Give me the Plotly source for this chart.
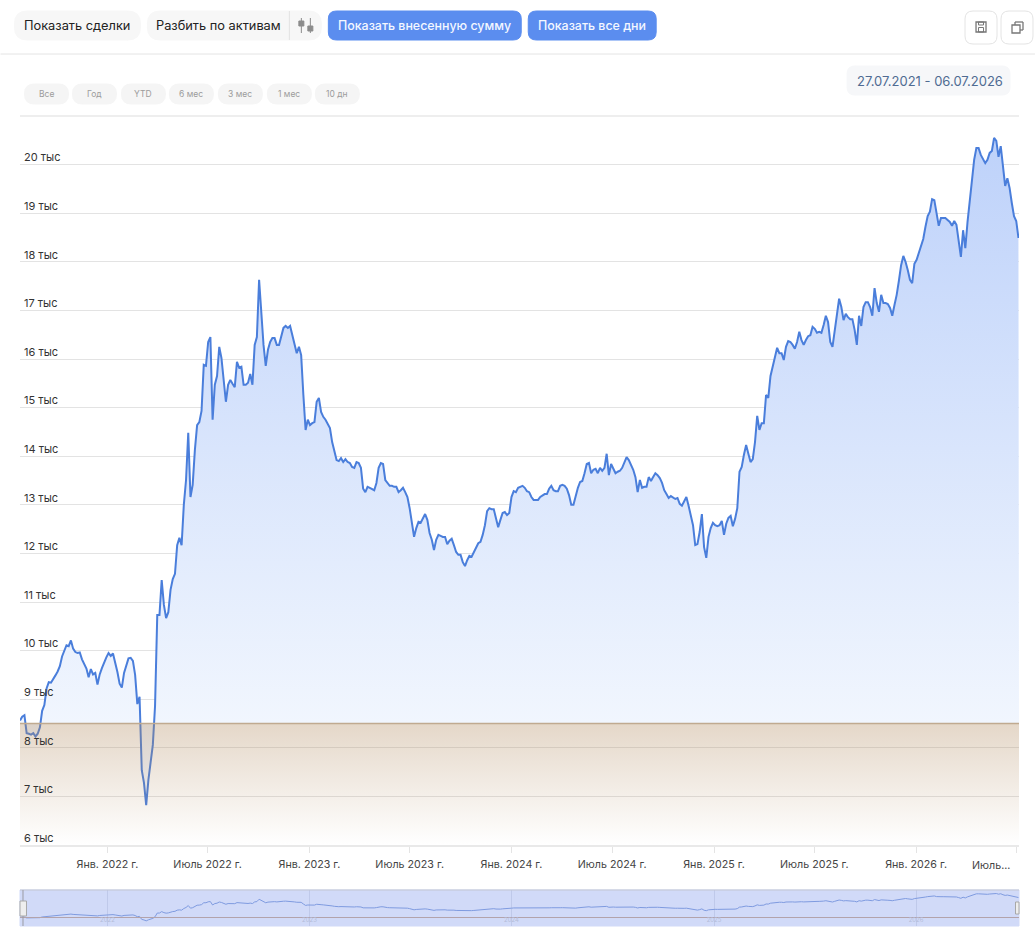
import pandas as pd
import plotly.graph_objects as go

start_date = "2021-07-27"
end_date = "2026-07-06"
invested_value = 8500

# portfolio value, one reading every 4 days
values_part1 = [
    8560, 8640, 8670, 8300, 8290, 8270, 8300, 8230, 8290, 8420,
    8760, 8880, 9220, 9350, 9340, 9430, 9490, 9570, 9680, 9880,
    10010, 10110, 10090, 10210, 10040, 9970, 9950, 9960, 9820, 9740,
    9630, 9450, 9620, 9510, 9540, 9300, 9510, 9640, 9760, 9860,
    9950, 9890, 9940, 9760, 9560, 9320, 9240, 9540, 9680, 9840,
]
values_part2 = [
    9850, 9790, 9500, 8900, 9050, 7540, 7280, 6820, 7340, 7730,
    8060, 8860, 10730, 10730, 11450, 10940, 10670, 10790, 11250, 11470,
    11580, 12170, 12320, 12170, 13000, 13510, 14480, 13160, 13410, 14130,
    14640, 14700, 14930, 15880, 15860, 16350, 16450, 14750, 15470, 15650,
    16250, 16020, 15530, 15120, 15470, 15570, 15490, 15420, 15940, 15820,
]
values_part3 = [
    15840, 15470, 15470, 15510, 15690, 15470, 16290, 16450, 17630, 16910,
    16290, 15860, 16190, 16350, 16430, 16430, 16290, 16290, 16490, 16640,
    16680, 16640, 16680, 16490, 16290, 16120, 16250, 16080, 15260, 14540,
    14750, 14640, 14680, 14700, 15120, 15200, 14910, 14810, 14750, 14660,
    14580, 14290, 14090, 13920, 13900, 13960, 13880, 13940, 13880, 13860,
]
values_part4 = [
    13780, 13760, 13880, 13860, 13760, 13330, 13260, 13370, 13350, 13330,
    13300, 13450, 13760, 13860, 13840, 13510, 13450, 13390, 13390, 13370,
    13370, 13260, 13300, 13350, 13260, 13160, 12930, 12650, 12340, 12520,
    12650, 12630, 12730, 12810, 12690, 12420, 12280, 12070, 12280, 12380,
    12360, 12340, 12340, 12190, 12260, 12300, 12170, 12030, 11970, 11970,
]
values_part5 = [
    11820, 11740, 11860, 11950, 11930, 12030, 12130, 12210, 12240, 12380,
    12580, 12870, 12930, 12910, 12910, 12730, 12540, 12690, 12830, 12850,
    12790, 12830, 13160, 13280, 13260, 13350, 13370, 13390, 13350, 13280,
    13260, 13160, 13100, 13100, 13100, 13160, 13200, 13220, 13220, 13330,
    13390, 13300, 13280, 13280, 13390, 13410, 13390, 13330, 13200, 13000,
]
values_part6 = [
    13000, 13180, 13350, 13470, 13490, 13650, 13840, 13860, 13650, 13720,
    13740, 13650, 13760, 13700, 13760, 14050, 13610, 13840, 13740, 13650,
    13680, 13700, 13760, 13860, 13980, 13920, 13820, 13720, 13570, 13260,
    13510, 13350, 13370, 13370, 13570, 13490, 13570, 13650, 13610, 13550,
    13450, 13300, 13220, 13140, 13180, 13140, 13120, 13140, 13020, 12980,
]
values_part7 = [
    13080, 13160, 12980, 12770, 12580, 12170, 12190, 12440, 12810, 12130,
    11910, 12340, 12520, 12630, 12580, 12560, 12580, 12670, 12380, 12610,
    12730, 12770, 12560, 12710, 12930, 13680, 13780, 14030, 14230, 14050,
    13880, 13940, 14290, 14830, 14540, 14680, 14680, 15260, 15200, 15650,
    15860, 16040, 16230, 16120, 16120, 15980, 16250, 16370, 16350, 16290,
]
values_part8 = [
    16210, 16350, 16560, 16390, 16290, 16390, 16470, 16490, 16660, 16620,
    16540, 16560, 16540, 16700, 16890, 16760, 16350, 16250, 16600, 16840,
    17240, 17070, 16800, 16930, 16860, 16820, 16820, 16600, 16290, 16890,
    16680, 17070, 17170, 17170, 17070, 16890, 17460, 17150, 16970, 17320,
    17150, 17150, 17130, 17050, 16890, 17110, 17320, 17610, 17930, 18120,
]
values_part9 = [
    18000, 17830, 17630, 17560, 17960, 18040, 18180, 18350, 18470, 18720,
    18940, 19030, 19290, 19270, 18960, 18740, 18900, 18900, 18900, 18860,
    18820, 18740, 18840, 18760, 18450, 18100, 18650, 18280, 18820, 19270,
    19620, 20100, 20340, 20340, 20200, 20100, 20030, 20100, 20240, 20280,
    20550, 20490, 20160, 20380, 19890, 19560, 19720, 19520, 19210, 18940,
    18840, 18490,
]

y_ticks = [6000, 7000, 8000, 9000, 10000, 11000, 12000, 13000, 14000, 15000, 16000, 17000, 18000, 19000, 20000, 21000]
y_labels = ["6 тыс", "7 тыс", "8 тыс", "9 тыс", "10 тыс", "11 тыс", "12 тыс", "13 тыс", "14 тыс", "15 тыс",
            "16 тыс", "17 тыс", "18 тыс", "19 тыс", "20 тыс", ""]
x_ticks = ["2022-01-01", "2022-07-01", "2023-01-01", "2023-07-01", "2024-01-01", "2024-07-01",
           "2025-01-01", "2025-07-01", "2026-01-01", "2026-07-01"]
x_labels = ["Янв. 2022 г.", "Июль 2022 г.", "Янв. 2023 г.", "Июль 2023 г.", "Янв. 2024 г.", "Июль 2024 г.",
            "Янв. 2025 г.", "Июль 2025 г.", "Янв. 2026 г.", ""]
year_ticks = ["2022-01-01", "2023-01-01", "2024-01-01", "2025-01-01", "2026-01-01"]
year_labels = ["2022", "2023", "2024", "2025", "2026"]
range_buttons = ["Все", "Год", "YTD", "6 мес", "3 мес", "1 мес", "10 дн"]

values = (values_part1 + values_part2 + values_part3 + values_part4 + values_part5
          + values_part6 + values_part7 + values_part8 + values_part9)
dates = pd.date_range(start_date, periods=len(values), freq="4D")

W, H = 1035, 937
LEFT, RIGHT = 19.5, 1019
FONT = "Inter"


def px_x(x):
    return (x - LEFT) / (RIGHT - LEFT)


def px_y(y):
    return (H - y) / H


def round_rect(x0, y0, x1, y1, r, fill, line=None):
    a, b, c, d = px_x(x0), px_x(x1), px_y(y0), px_y(y1)
    rx, ry = r / (RIGHT - LEFT), r / H
    path = (f"M{a + rx},{c} L{b - rx},{c} Q{b},{c} {b},{c - ry} L{b},{d + ry} Q{b},{d} {b - rx},{d} "
            f"L{a + rx},{d} Q{a},{d} {a},{d + ry} L{a},{c - ry} Q{a},{c} {a + rx},{c} Z")
    return dict(type="path", path=path, xref="paper", yref="paper", fillcolor=fill, layer="below",
                line=dict(color=line or fill, width=1))


def rect(x0, y0, x1, y1, fill="rgba(0,0,0,0)", line=None, width=1, layer="above"):
    return dict(type="rect", xref="paper", yref="paper", x0=px_x(x0), x1=px_x(x1), y0=px_y(y1), y1=px_y(y0),
                fillcolor=fill, layer=layer, line=dict(color=line or fill, width=width))


def seg(x0, y0, x1, y1, color, width=1, layer="above"):
    return dict(type="line", xref="paper", yref="paper", x0=px_x(x0), x1=px_x(x1), y0=px_y(y0), y1=px_y(y1),
                layer=layer, line=dict(color=color, width=width))


def label(text, x, y, size, color, anchor="left", weight=400):
    return dict(text=text, x=px_x(x), y=px_y(y), xref="paper", yref="paper", showarrow=False, xanchor=anchor,
                yanchor="middle", font=dict(family=FONT, size=size, color=color, weight=weight))


fig = go.Figure()

# main chart
fig.add_trace(go.Scatter(x=[dates[0], end_date], y=[invested_value, invested_value], mode="lines",
                         line=dict(width=0), hoverinfo="skip", showlegend=False))
fig.add_trace(go.Scatter(x=dates, y=values, mode="lines", fill="tonexty",
                         line=dict(color="#4a7edb", width=2), showlegend=False,
                         fillgradient=dict(type="vertical", start=invested_value, stop=20500,
                                           colorscale=[[0, "rgb(241,246,254)"], [1, "rgb(190,210,250)"]])))
fig.add_trace(go.Scatter(x=[dates[0], end_date], y=[6000, 6000], mode="lines",
                         line=dict(width=0), hoverinfo="skip", showlegend=False))
fig.add_trace(go.Scatter(x=[dates[0], end_date], y=[invested_value, invested_value], mode="lines", fill="tonexty",
                         line=dict(color="#c0aa90", width=1.5), hoverinfo="skip", showlegend=False,
                         fillgradient=dict(type="vertical", start=6000, stop=invested_value,
                                           colorscale=[[0, "rgba(175,135,90,0)"], [1, "rgba(175,135,90,0.33)"]])))

# overview strip
fig.add_trace(go.Scatter(x=dates, y=values, mode="lines", xaxis="x2", yaxis="y2",
                         line=dict(color="#7f9be0", width=1), showlegend=False, hoverinfo="skip"))
fig.add_trace(go.Scatter(x=[dates[0], end_date], y=[invested_value, invested_value], mode="lines", xaxis="x2",
                         yaxis="y2", line=dict(color="#b3a3ab", width=1), showlegend=False, hoverinfo="skip"))

shapes = [
    seg(0, 54, W, 54, "#e4e4e4"),
    seg(LEFT, 116, RIGHT, 116, "#e8e8e8", 1.5),
    rect(LEFT, 890, RIGHT, 926, "#d1daf8", layer="below"),
    seg(LEFT, 890, RIGHT, 890, "#c4c6d2"),
    round_rect(14, 11, 140, 40, 13, "#f7f7f7"),
    round_rect(147, 11, 321, 40, 13, "#f7f7f7"),
    seg(289, 11, 289, 40, "#e2e2e2"),
    round_rect(328, 11, 521, 40, 8, "#5b8def"),
    round_rect(528, 11, 656, 40, 8, "#5b8def"),
    round_rect(965, 11, 997, 44, 8, "#ffffff", "#e4e4e4"),
    round_rect(1001, 11, 1033, 44, 8, "#ffffff", "#e4e4e4"),
    round_rect(847, 66, 1010, 95, 8, "#f6f7f9"),
    # slider icon
    seg(301, 18, 301, 33, "#8c8c8c"),
    seg(310, 18, 310, 33, "#8c8c8c"),
    rect(298.5, 21, 303.5, 26, "#8c8c8c"),
    rect(307.5, 26, 312.5, 31, "#8c8c8c"),
    # save icon
    rect(976, 22, 986, 32, line="#777777", width=1.3),
    rect(978.5, 27.5, 983.5, 32, line="#777777", width=1),
    rect(978.5, 22, 983.5, 25, line="#777777", width=1),
    # copy icon
    rect(1012, 25, 1020, 33, "#ffffff", "#777777", 1.3),
    seg(1015, 25, 1015, 22, "#777777", 1.3),
    seg(1015, 22, 1023, 22, "#777777", 1.3),
    seg(1023, 22, 1023, 30, "#777777", 1.3),
    seg(1023, 30, 1020, 30, "#777777", 1.3),
    # overview handles
    seg(22.5, 890, 22.5, 926, "#9a9aa2"),
    rect(19.5, 901, 26, 916, "#eeeeee", "#a8a8a8"),
    rect(1015.5, 902, 1019, 914, "#eeeeee", "#a8a8a8"),
]

annotations = [
    label("Показать сделки", 22, 26, 12.8, "#222222"),
    label("Разбить по активам", 154, 26, 12.8, "#222222"),
    label("Показать внесенную сумму", 336, 26, 12.4, "#f4f7ff", weight=500),
    label("Показать все дни", 536, 26, 12.4, "#f4f7ff", weight=500),
    label("27.07.2021 - 06.07.2026", 855, 81, 13, "#4f6b92"),
    label("Июль...", 970, 865, 10.7, "#444444"),
]

pill_left = [24, 72, 121, 169, 218, 267, 315]
for left, name in zip(pill_left, range_buttons):
    shapes.append(round_rect(left, 84, left + 44, 104, 10, "#f5f5f5"))
    annotations.append(label(name, left + 22, 94, 8.5, "#9c9c9c", "center"))

fig.update_layout(
    width=W,
    height=H,
    margin=dict(l=LEFT, r=W - RIGHT, t=0, b=0),
    paper_bgcolor="#ffffff",
    plot_bgcolor="#ffffff",
    font=dict(family=FONT),
    showlegend=False,
    shapes=shapes,
    annotations=annotations,
    xaxis=dict(domain=[0, 1], range=[start_date, end_date], tickmode="array", tickvals=x_ticks, ticktext=x_labels,
               showgrid=False, ticks="outside", ticklen=6, tickcolor="#e4e4e4", showline=True, linecolor="#e9e9e9",
               linewidth=2, ticklabelstandoff=2, tickfont=dict(family=FONT, size=10.7, color="#444444"), anchor="y"),
    yaxis=dict(domain=[px_y(845), px_y(116)], range=[6000, 21000], tickmode="array", tickvals=y_ticks,
               ticktext=y_labels, ticklabelposition="inside", ticklabelshift=-7, ticklabelstandoff=1,
               gridcolor="#e3e3e3", gridwidth=1, zeroline=False,
               tickfont=dict(family=FONT, size=11, color="#333333"), anchor="x"),
    xaxis2=dict(domain=[0, 1], range=[start_date, end_date], tickmode="array", tickvals=year_ticks,
                ticktext=year_labels, showgrid=True, gridcolor="#bfc9ea", ticklabelposition="inside",
                tickfont=dict(family=FONT, size=6, color="#b4bcd8"), anchor="y2", showline=False),
    yaxis2=dict(domain=[px_y(926), px_y(890)], range=[4250, 22250], showgrid=False, zeroline=False,
                showticklabels=False, anchor="x2"),
)

fig.write_html("out.html", config={"displayModeBar": False}, post_script="document.body.style.margin = '0';")
